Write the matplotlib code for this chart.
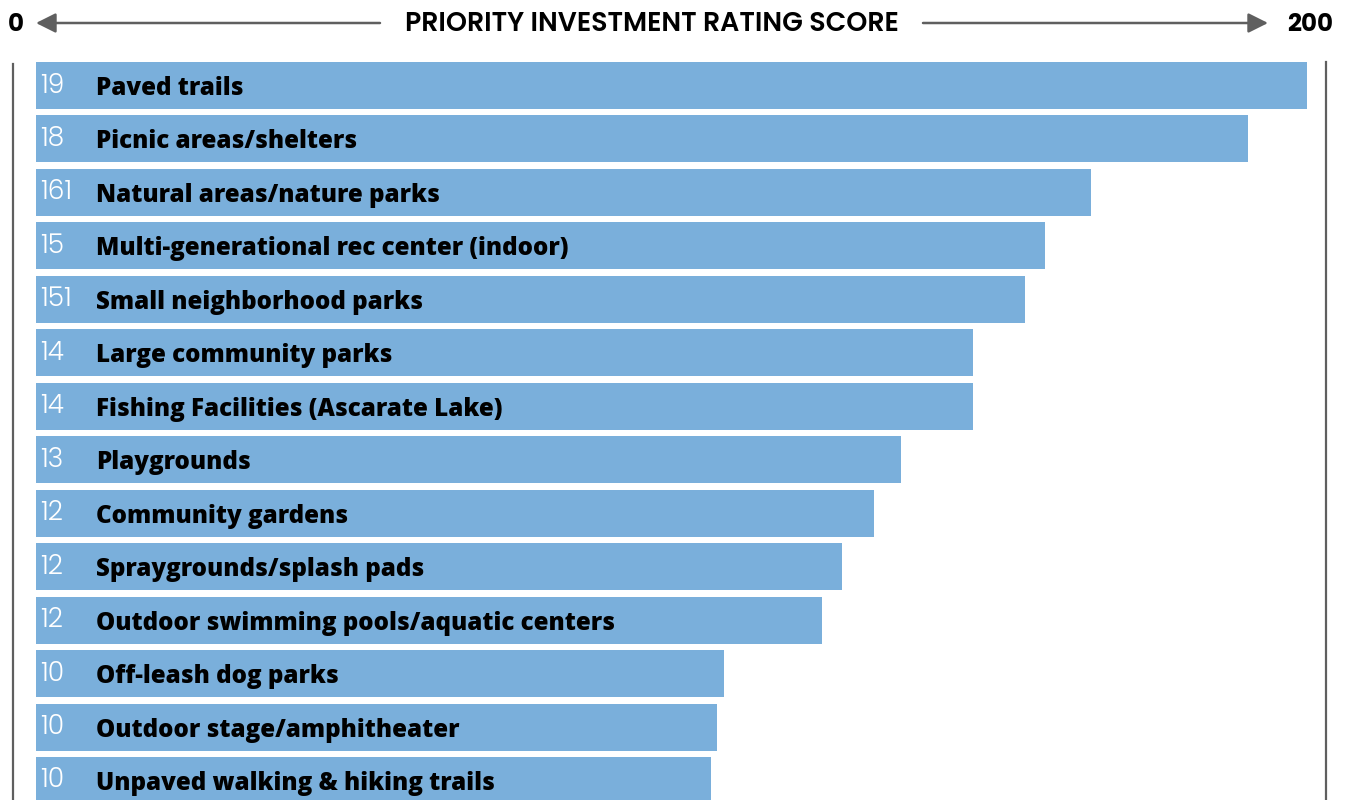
import matplotlib
matplotlib.use("Agg")
import matplotlib.pyplot as plt
from matplotlib.patches import FancyArrowPatch

# Facility categories and their priority investment rating scores
categories = [
    "Paved trails",
    "Picnic areas/shelters",
    "Natural areas/nature parks",
    "Multi-generational rec center (indoor)",
    "Small neighborhood parks",
    "Large community parks",
    "Fishing Facilities (Ascarate Lake)",
    "Playgrounds",
    "Community gardens",
    "Spraygrounds/splash pads",
    "Outdoor swimming pools/aquatic centers",
    "Off-leash dog parks",
    "Outdoor stage/amphitheater",
    "Unpaved walking & hiking trails",
]
scores = [194, 185, 161, 154, 151, 143, 143, 132, 128, 123, 120, 105, 104, 103]
# Score text as printed at the start of each bar
score_labels = ["19", "18", "161", "15", "151", "14", "14", "13", "12", "12", "12", "10", "10", "10"]

axis_min, axis_max = 0, 200
axis_title = "PRIORITY INVESTMENT RATING SCORE"

W, H = 1351, 800
fig = plt.figure(figsize=(W / 100, H / 100), dpi=100)
fig.patch.set_facecolor("white")

BAR_COLOR = "#7aafdb"
LINE_COLOR = "#5f5f5f"

# bar axes: value 0 at x=36px, value 200 at x=1346px
x0_px, x1_px = 36, 1346
top_px, bot_px = 62, 800
ax = fig.add_axes([x0_px / W, 1 - bot_px / H, (x1_px - x0_px) / W, (bot_px - top_px) / H])
pitch = 53.46
bar_h = 47.0
first_center = top_px + bar_h / 2
ax.set_xlim(axis_min, axis_max)
ax.set_ylim((bot_px - first_center) / pitch, -(bar_h / 2) / pitch)
ax.axis("off")

ypos = list(range(len(categories)))
ax.barh(ypos, scores, height=bar_h / pitch, color=BAR_COLOR, edgecolor="none")

px_per_unit = (x1_px - x0_px) / (axis_max - axis_min)
for y, lab, cat in zip(ypos, score_labels, categories):
    ax.text(4 / px_per_unit, y + 7 / pitch, lab, color="white", fontsize=19,
            family="Poppins", fontweight=300, va="baseline", ha="left")
    ax.text(60 / px_per_unit, y + 9.5 / pitch, cat, color="black", fontsize=17.4,
            family="Open Sans", fontweight=800, va="baseline", ha="left")

# frame lines on either side
fig.add_artist(plt.Line2D([13 / W, 13 / W], [0, 1 - 64 / H], color=LINE_COLOR,
                          lw=1.6, transform=fig.transFigure))
fig.add_artist(plt.Line2D([1326 / W, 1326 / W], [0, 1 - 62 / H], color=LINE_COLOR,
                          lw=1.6, transform=fig.transFigure))

# header: scale ends and title with arrows
hy = 1 - 31 / H
t0 = fig.text(16 / W, hy, str(axis_min), fontsize=17, family="Poppins",
              fontweight=700, ha="center", va="baseline")
t1 = fig.text(1310 / W, hy, str(axis_max), fontsize=17, family="Poppins",
              fontweight=700, ha="center", va="baseline")
tt = fig.text(651.5 / W, hy, axis_title, fontsize=15, family="Poppins",
              fontweight=600, ha="center", va="baseline")

# scale the header title and the end values to their slots
renderer = fig.canvas.get_renderer()
for txt, target in [(tt, 493), (t1, 46)]:
    fs = txt.get_fontsize()
    txt.set_fontsize(fs * target / txt.get_window_extent(renderer).width)
t0.set_fontsize(t1.get_fontsize())

ay = 1 - 23 / H
for xa, xb in [(380, 36), (923, 1268)]:
    arr = FancyArrowPatch((xa / W, ay), (xb / W, ay), transform=fig.transFigure,
                          arrowstyle="-|>,head_length=12,head_width=6",
                          color=LINE_COLOR, lw=1.8, shrinkA=0, shrinkB=0,
                          mutation_scale=1)
    fig.add_artist(arr)

fig.savefig("out.png", dpi=100)
